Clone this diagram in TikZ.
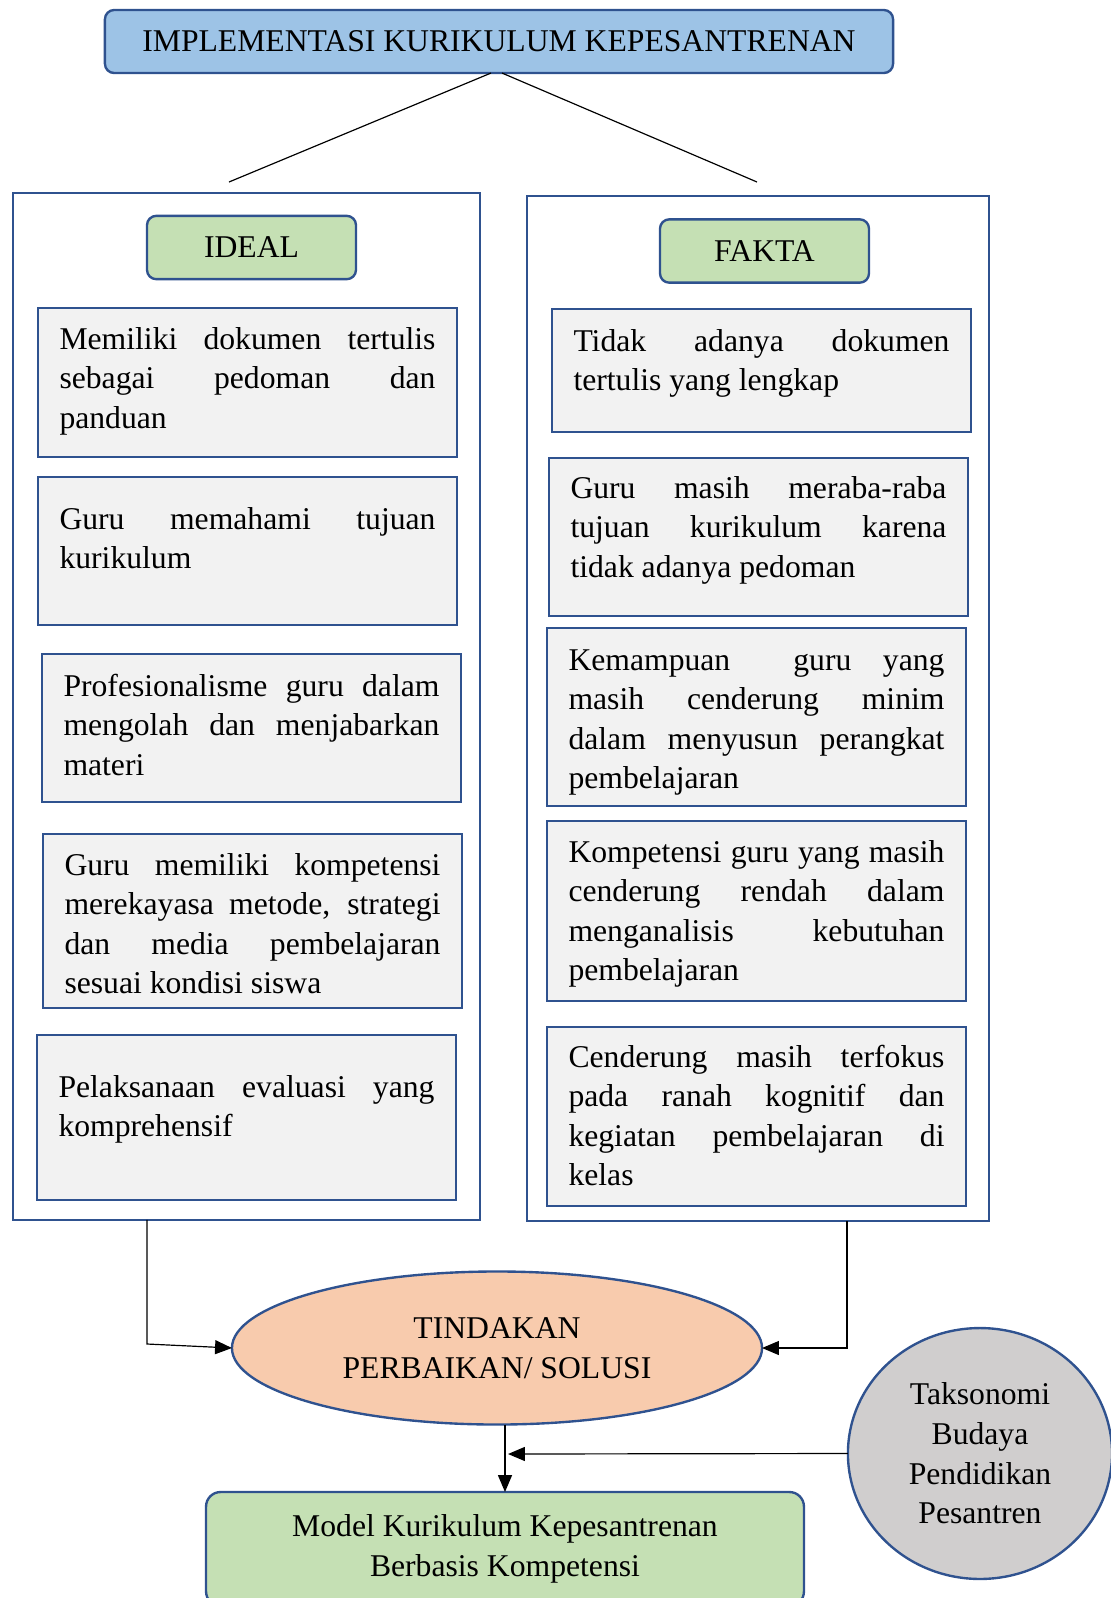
\documentclass[tikz,border=0pt]{standalone}
\usepackage{fontspec}
\setmainfont{Liberation Serif}
\usetikzlibrary{arrows.meta,positioning,calc,shapes.geometric}

\definecolor{rimblue}{HTML}{2F528F}
\definecolor{titlefill}{HTML}{9DC3E6}
\definecolor{headfill}{HTML}{C5E0B4}
\definecolor{itemfill}{HTML}{F2F2F2}
\definecolor{solusifill}{HTML}{F8CBAD}
\definecolor{taksofill}{HTML}{D0CECE}

\newcommand{\pxu}{0.379pt}
\hyphenpenalty=10000
\exhyphenpenalty=10000
\tolerance=10000

\tikzset{
  rim/.style={draw=rimblue, line width=0.9pt, outer sep=0pt},
  headbox/.style={rim, fill=headfill, rounded corners=3.5pt, minimum width=79.2pt, minimum height=24pt},
  itembox/.style 2 args={rim, fill=itemfill, anchor=north west, text width=142.5pt,
    inner xsep=8.15pt, inner ysep=0pt, align=justify, text height=#1, text depth=#2},
  link/.style={draw=black, line width=0.45pt},
  tip/.style={-{Triangle[length=6.4pt,width=5.3pt]}}
}

\begin{document}
\begin{tikzpicture}[x=\pxu, y=-\pxu, font=\fontsize{12}{15}\selectfont]
\useasboundingbox (0,0) rectangle (1111,1598);

% Title
\node[rim, fill=titlefill, rounded corners=3.5pt, minimum width=298.7pt, minimum height=23.9pt] (title) at (499,41.5) {IMPLEMENTASI KURIKULUM KEPESANTRENAN};

% Columns
\node[rim, minimum width=177pt, minimum height=389.2pt] (idealpanel) at (246.5,706.5) {};
\node[rim, minimum width=175.1pt, minimum height=388.5pt] (faktapanel) at (758,708.5) {};

\coordinate (idealtop) at (229,182);
\coordinate (faktatop) at (757,182);
\draw[link] ($(title.south)+(-8,0)$) -- (idealtop);
\draw[link] ($(title.south)+(3,0)$) -- (faktatop);

\node[headbox] (ideal) at (251.5,247.5) {IDEAL};
\node[headbox] (fakta) at (764.5,251) {FAKTA};

% Ideal side
\node[itembox={15.54pt}{40.93pt}] (ideal1) at (38,308) {Memiliki dokumen tertulis\linebreak sebagai pedoman dan\linebreak panduan};
\node[itembox={19.71pt}{36.38pt}] (ideal2) at (38,477) {Guru memahami tujuan\linebreak kurikulum};
\node[itembox={15.92pt}{40.17pt}] (ideal3) at (42,654) {Profesionalisme guru dalam\linebreak mengolah dan menjabarkan\linebreak materi};
\node[itembox={15.54pt}{50.41pt}] (ideal4) at (43,834) {Guru memiliki kompetensi\linebreak merekayasa metode, strategi\linebreak dan media pembelajaran\linebreak sesuai kondisi siswa};
\node[itembox={23.5pt}{39.04pt}] (ideal5) at (37,1035) {Pelaksanaan evaluasi yang\linebreak komprehensif};

% Fakta side
\node[itembox={15.92pt}{30.7pt}] (fakta1) at (552,309) {Tidak adanya dokumen\linebreak tertulis yang lengkap};
\node[itembox={15.16pt}{44.72pt}] (fakta2) at (549,458) {Guru masih meraba-raba\linebreak tujuan kurikulum karena\linebreak tidak adanya pedoman};
\node[itembox={15.92pt}{51.54pt}] (fakta3) at (547,628) {Kemampuan\ \ guru yang\linebreak masih cenderung minim\linebreak dalam menyusun perangkat\linebreak pembelajaran};
\node[itembox={15.54pt}{52.68pt}] (fakta4) at (547,821) {Kompetensi guru yang masih\linebreak cenderung rendah dalam\linebreak menganalisis kebutuhan\linebreak pembelajaran};
\node[itembox={15.16pt}{52.68pt}] (fakta5) at (547,1027) {Cenderung masih terfokus\linebreak pada ranah kognitif dan\linebreak kegiatan pembelajaran di\linebreak kelas};

% Solusi and result
\node[rim, ellipse, fill=solusifill, inner sep=0pt, minimum width=200.9pt, minimum height=58pt, align=center] (solusi) at (497,1348) {TINDAKAN\\PERBAIKAN/ SOLUSI};
\node[rim, ellipse, fill=taksofill, inner sep=0pt, minimum width=100.1pt, minimum height=95.1pt, align=center] (takso) at (980,1453.5) {Taksonomi\\Budaya\\Pendidikan\\Pesantren};
\node[rim, fill=headfill, rounded corners=5.5pt, minimum width=226.6pt, minimum height=43.2pt, align=center] (model) at (505,1549) {Model Kurikulum Kepesantrenan\\Berbasis Kompetensi};

% Arrows
\coordinate (lbend) at (147,1344);
\coordinate (rdrop) at (847,1300);
\coordinate (joint) at (508,1454);
\draw[link, tip] (idealpanel.south -| lbend) -- (lbend) -- (solusi.west);
\draw[link, tip] (faktapanel.south -| rdrop) |- (solusi.east);
\draw[link, tip] (solusi.south -| model.north) -- (model.north);
\draw[link, tip] (takso.west) -- (joint);

\end{tikzpicture}
\end{document}
